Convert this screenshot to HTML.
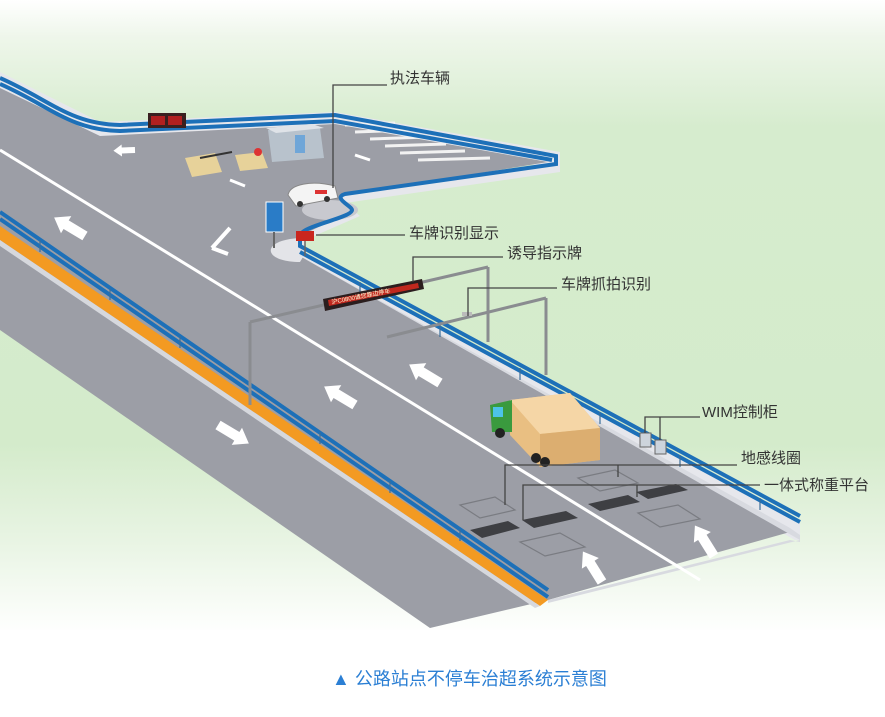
<!DOCTYPE html>
<html><head><meta charset="utf-8"><style>
html,body{margin:0;padding:0;background:#fff;}
svg{display:block}
text{font-family:"Liberation Sans","Noto Sans CJK SC",sans-serif;}
</style></head><body>
<svg width="885" height="717" viewBox="0 0 885 717" xmlns="http://www.w3.org/2000/svg">
<defs>
<linearGradient id="bg" x1="0" y1="0" x2="0" y2="1">
<stop offset="0" stop-color="#ffffff"/>
<stop offset="0.06" stop-color="#eef6ea"/>
<stop offset="0.2" stop-color="#d6ecce"/>
<stop offset="0.7" stop-color="#d4ebcb"/>
<stop offset="0.85" stop-color="#e8f4e3"/>
<stop offset="1" stop-color="#ffffff"/>
</linearGradient>
<g id="arr"><polygon points="0,-5 22,-5 22,-10 36,0 22,10 22,5 0,5" fill="#fff"/></g>
</defs>
<rect x="0" y="0" width="885" height="635" fill="url(#bg)"/>
<rect x="0" y="630" width="885" height="87" fill="#fff"/>

<polygon points="0,72 100,122 335,112 560,152 560,172 345,203 360,216 305,240 305,252 800,522 800,540 795,540 300,262 290,240 340,212 330,198 540,166 335,128 100,140 0,92" fill="#e6e7ec"/>
<polygon points="0,88 100,136 335,124 548,162 340,196 350,212 300,236 298,255 790,532 548,600 430,628 0,330" fill="#9c9ea6"/>
<polygon points="298,255 790,528 800,535 800,542 790,540 548,600 548,603 800,540" fill="#d8dae0"/>
<path d="M300,238 C260,240 262,262 300,262 L306,252 Z" fill="#e3e4e8"/>
<ellipse cx="330" cy="210" rx="28" ry="10" fill="#c8c9cf"/>

<g stroke="#f2f2f2" stroke-width="3">
<line x1="345" y1="125" x2="395" y2="123"/><line x1="355" y1="132" x2="410" y2="130"/>
<line x1="370" y1="139" x2="428" y2="137"/><line x1="385" y1="146" x2="446" y2="144"/>
<line x1="400" y1="153" x2="465" y2="151"/><line x1="418" y1="160" x2="490" y2="158"/>
</g>
<line x1="355" y1="155" x2="370" y2="160" stroke="#fff" stroke-width="3"/>

<polygon points="0,226 548,600 540,606 0,240" fill="#f39a22"/>
<polygon points="0,240 540,606 535,608 0,246" fill="#d6d8dd"/>
<line x1="0" y1="150" x2="700" y2="580" stroke="#fff" stroke-width="3"/>

<g fill="none" stroke="#1d70b8" stroke-width="4">
<path d="M0,78 C50,100 70,124 120,125 L335,115 L556,156 L556,164 L345,194 C332,198 352,206 352,210 C352,218 300,226 300,236 L300,246 L800,516"/>
<path d="M0,84 C50,106 70,130 120,131 L335,121 L552,160"/>
<path d="M300,252 L800,522"/>
<path d="M0,212 L548,590"/>
<path d="M0,219 L548,597"/>
</g>
<g stroke="#3a6d9a" stroke-width="1.2">
<line x1="40" y1="240" x2="40" y2="252"/><line x1="110" y1="288" x2="110" y2="300"/>
<line x1="180" y1="336" x2="180" y2="348"/><line x1="250" y1="384" x2="250" y2="396"/>
<line x1="320" y1="432" x2="320" y2="444"/><line x1="390" y1="481" x2="390" y2="493"/>
<line x1="460" y1="529" x2="460" y2="541"/>
<line x1="360" y1="282" x2="360" y2="294"/><line x1="440" y1="325" x2="440" y2="337"/>
<line x1="520" y1="368" x2="520" y2="380"/><line x1="600" y1="412" x2="600" y2="424"/>
<line x1="680" y1="455" x2="680" y2="467"/><line x1="760" y1="498" x2="760" y2="510"/>
</g>

<use href="#arr" transform="translate(85,236) rotate(211)"/>
<use href="#arr" transform="translate(355,405) rotate(211)"/>
<use href="#arr" transform="translate(440,383) rotate(211)"/>
<use href="#arr" transform="translate(218,425) rotate(31)"/>
<use href="#arr" transform="translate(602,582) rotate(-122)"/>
<use href="#arr" transform="translate(714,556) rotate(-122)"/>
<use href="#arr" transform="translate(135,150) rotate(178) scale(0.6)"/>
<path d="M230,228 L212,248 M212,248 L228,254" stroke="#fff" stroke-width="4" fill="none"/>
<path d="M230,180 L245,186 M242,168 L255,164" stroke="#fff" stroke-width="3" fill="none"/>

<polygon points="268,130 320,128 324,158 272,162" fill="#b8c2cc"/>
<polygon points="266,128 312,124 324,128 276,133" fill="#dfe3e8"/>
<rect x="295" y="135" width="10" height="18" fill="#6fa6d8"/>
<polygon points="185,158 215,153 222,172 192,177" fill="#e7d29a"/>
<polygon points="235,155 262,152 268,168 240,171" fill="#e7d29a"/>
<line x1="200" y1="158" x2="232" y2="152" stroke="#333" stroke-width="2"/>
<circle cx="258" cy="152" r="4" fill="#d33"/>
<rect x="148" y="113" width="38" height="15" fill="#3a2020"/>
<rect x="151" y="116" width="14" height="9" fill="#b02020"/><rect x="168" y="116" width="14" height="9" fill="#b02020"/>
<path d="M288,195 C290,184 312,180 335,186 L338,198 L296,206 Z" fill="#f4f4f4" stroke="#888"/>
<circle cx="300" cy="204" r="3" fill="#333"/><circle cx="327" cy="199" r="3" fill="#333"/>
<rect x="315" y="190" width="12" height="4" fill="#d33"/>
<rect x="266" y="202" width="17" height="30" fill="#2a7cc7" stroke="#fff"/>
<line x1="274" y1="232" x2="274" y2="248" stroke="#666" stroke-width="2"/>
<rect x="296" y="231" width="18" height="10" fill="#c9261e"/>
<line x1="305" y1="241" x2="305" y2="256" stroke="#666" stroke-width="1.5"/>

<g stroke="#8a8c90" stroke-width="3" fill="none">
<line x1="250" y1="322" x2="250" y2="405"/>
<line x1="250" y1="322" x2="488" y2="267"/>
<line x1="488" y1="267" x2="488" y2="342"/>
<line x1="387" y1="337" x2="546" y2="298"/>
<line x1="546" y1="298" x2="546" y2="375"/>
</g>
<polygon points="323,299 422,279 424,289 325,311" fill="#2b1e1e"/>
<polygon points="328,300 418,283 419,288 329,306" fill="#c0281e"/>
<text x="332" y="304" font-size="6" fill="#ffd" transform="rotate(-11 332 304)">沪C0800请您靠边停车</text>
<rect x="462" y="312" width="10" height="4" fill="#bbb"/>

<polygon points="510,400 570,393 600,428 600,460 540,467 510,435" fill="#e9bf82"/>
<polygon points="510,400 570,393 600,428 540,434" fill="#f5d6a6"/>
<polygon points="540,434 600,428 600,460 540,467" fill="#dcae70"/>
<polygon points="490,405 512,400 512,432 492,432" fill="#3a9a3e"/>
<rect x="493" y="407" width="10" height="10" fill="#4dc3e8"/>
<circle cx="500" cy="433" r="5" fill="#222"/><circle cx="536" cy="458" r="5" fill="#222"/><circle cx="545" cy="462" r="5" fill="#222"/>

<rect x="640" y="433" width="11" height="14" fill="#cdd4dc" stroke="#666"/>
<rect x="655" y="440" width="11" height="14" fill="#cdd4dc" stroke="#666"/>

<g fill="none" stroke="#7a7c82" stroke-width="1.2">
<path d="M460,505 L495,497 L515,510 L480,518 Z"/>
<path d="M520,542 L560,533 L585,547 L545,556 Z"/>
<path d="M578,478 L615,470 L638,483 L600,491 Z"/>
<path d="M638,513 L678,505 L700,519 L660,527 Z"/>
</g>
<g fill="#3e3f43">
<polygon points="470,530 508,521 520,528 482,538"/>
<polygon points="522,520 566,511 578,518 534,528"/>
<polygon points="588,504 628,495 640,502 600,511"/>
<polygon points="636,492 676,484 688,490 648,499"/>
</g>

<g stroke="#444" stroke-width="1.3" fill="none">
<polyline points="333,188 333,85 387,85"/>
<polyline points="316,235 405,235"/>
<polyline points="413,282 413,257 503,257"/>
<polyline points="468,316 468,288 557,288"/>
<polyline points="645,433 645,417 700,417"/>
<line x1="660" y1="417" x2="660" y2="440"/>
<polyline points="505,505 505,465 737,465"/>
<line x1="618" y1="465" x2="618" y2="477"/>
<polyline points="523,520 523,485 760,485"/>
<line x1="637" y1="485" x2="637" y2="497"/>
</g>

<g font-size="15" fill="#333">
<text x="390" y="83">执法车辆</text>
<text x="409" y="238">车牌识别显示</text>
<text x="507" y="258">诱导指示牌</text>
<text x="561" y="289">车牌抓拍识别</text>
<text x="702" y="417">WIM控制柜</text>
<text x="741" y="463">地感线圈</text>
<text x="764" y="490">一体式称重平台</text>
</g>

<text x="332" y="685" font-size="18" fill="#2b7fd4">▲ 公路站点不停车治超系统示意图</text>
</svg>
</body></html>
